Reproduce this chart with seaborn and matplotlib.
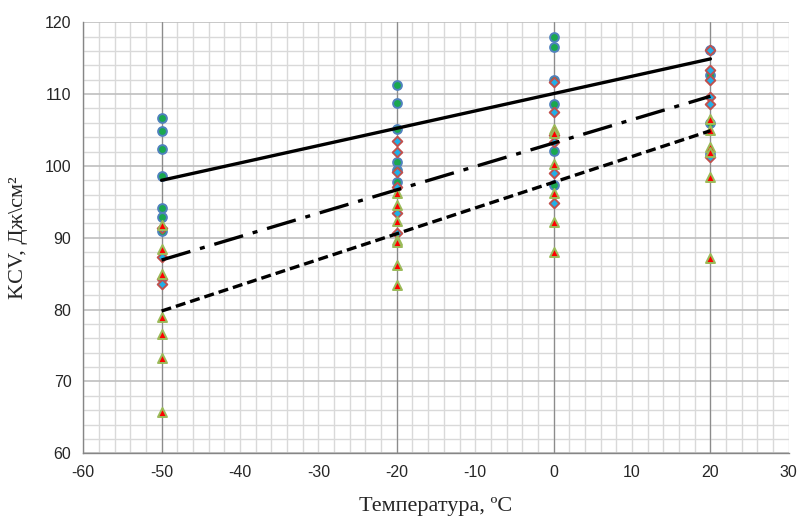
import numpy as np
import pandas as pd
import matplotlib
matplotlib.use("Agg")
import matplotlib.pyplot as plt
import matplotlib.ticker as ticker
import seaborn as sns

# test temperatures (columns of points)
temps = [-50, -20, 0, 20]

# impact strength readings
circle_vals = {
    -50: [106.7, 104.8, 102.3, 98.6, 94.2, 92.9, 91.0],
    -20: [111.3, 108.8, 105.1, 100.6, 99.4, 97.7],
    0: [118.0, 116.6, 112.0, 108.6, 102.1, 97.4],
    20: [116.2, 112.7, 106.0, 101.6],
}
diamond_vals = {
    -50: [91.3, 87.3, 84.3, 83.5],
    -20: [103.5, 102.0, 99.2, 97.1, 93.5, 90.6],
    0: [111.7, 107.5, 104.3, 103.4, 99.0, 94.9],
    20: [116.2, 113.4, 111.9, 109.6, 108.6, 101.2],
}
triangle_vals = {
    -50: [91.8, 88.4, 85.0, 78.9, 76.6, 73.2, 65.7],
    -20: [96.2, 94.6, 92.3, 89.7, 89.4, 86.2, 83.4],
    0: [105.2, 104.6, 100.2, 96.3, 92.2, 88.0],
    20: [106.5, 105.0, 102.6, 102.0, 98.4, 87.2],
}

# trend lines (start at -50, end at 20)
trend_x = [-50, 20]
trend_solid = [98.0, 114.9]
trend_dashdot = [86.9, 109.7]
trend_dashed = [79.8, 104.9]


def to_frame(vals):
    rows = [(t, v) for t in temps for v in vals[t]]
    return pd.DataFrame(rows, columns=["t", "kcv"])


sns.set_style("white")
plt.rcParams['font.family'] = ['Liberation Sans', 'DejaVu Sans']
plt.rcParams['axes.unicode_minus'] = False

fig, ax = plt.subplots(figsize=(8, 5.18), dpi=100)
fig.subplots_adjust(left=0.104, right=0.986, top=0.957, bottom=0.125)

# grid
ax.set_xlim(-60, 30)
ax.set_ylim(60, 120)
ax.xaxis.set_major_locator(ticker.MultipleLocator(10))
ax.yaxis.set_major_locator(ticker.MultipleLocator(10))
ax.xaxis.set_minor_locator(ticker.MultipleLocator(2))
ax.yaxis.set_minor_locator(ticker.MultipleLocator(2))
ax.grid(which='minor', color='#d9d9d9', linewidth=1.0)
ax.grid(which='major', axis='y', color='#bfbfbf', linewidth=1.2)
ax.grid(which='major', axis='x', color='#d9d9d9', linewidth=1.0)
ax.set_axisbelow(True)
for t in temps:
    ax.axvline(t, color='#8c8c8c', linewidth=0.9, zorder=1)

sns.scatterplot(data=to_frame(circle_vals), x="t", y="kcv", ax=ax, marker='o',
                s=40, color='#1aa84f', edgecolor='#4f81bd', linewidth=1.4, zorder=3)
sns.scatterplot(data=to_frame(diamond_vals), x="t", y="kcv", ax=ax, marker='D',
                s=24, color='#1fb0e8', edgecolor='#c0504d', linewidth=1.4, zorder=4)
sns.scatterplot(data=to_frame(triangle_vals), x="t", y="kcv", ax=ax, marker='^',
                s=42, color='#ff0000', edgecolor='#9bbb59', linewidth=1.4, zorder=5)

sns.lineplot(x=trend_x, y=trend_solid, ax=ax, color='black', linewidth=2.4, zorder=6)
sns.lineplot(x=trend_x, y=trend_dashdot, ax=ax, color='black', linewidth=2.4, zorder=6)
ax.lines[-1].set_dashes([9, 3, 1.5, 3])
sns.lineplot(x=trend_x, y=trend_dashed, ax=ax, color='black', linewidth=2.4, zorder=6)
ax.lines[-1].set_dashes([3, 1.5])

for side in ['top', 'right']:
    ax.spines[side].set_visible(False)
for side in ['left', 'bottom']:
    ax.spines[side].set_color('#868686')
    ax.spines[side].set_linewidth(1.0)

ax.tick_params(axis='both', which='major', direction='out', length=5, width=1,
               color='#868686', labelsize=11.5, labelcolor='#262626')
ax.tick_params(axis='both', which='minor', length=0)

ax.set_xlabel('Температура, ºC', family=['Liberation Serif', 'DejaVu Serif'],
              fontsize=16, labelpad=12)
ax.set_ylabel('KCV, Дж\\см²', family=['Liberation Serif', 'DejaVu Serif'],
              fontsize=16, labelpad=12)

fig.savefig('out.png', dpi=100)
